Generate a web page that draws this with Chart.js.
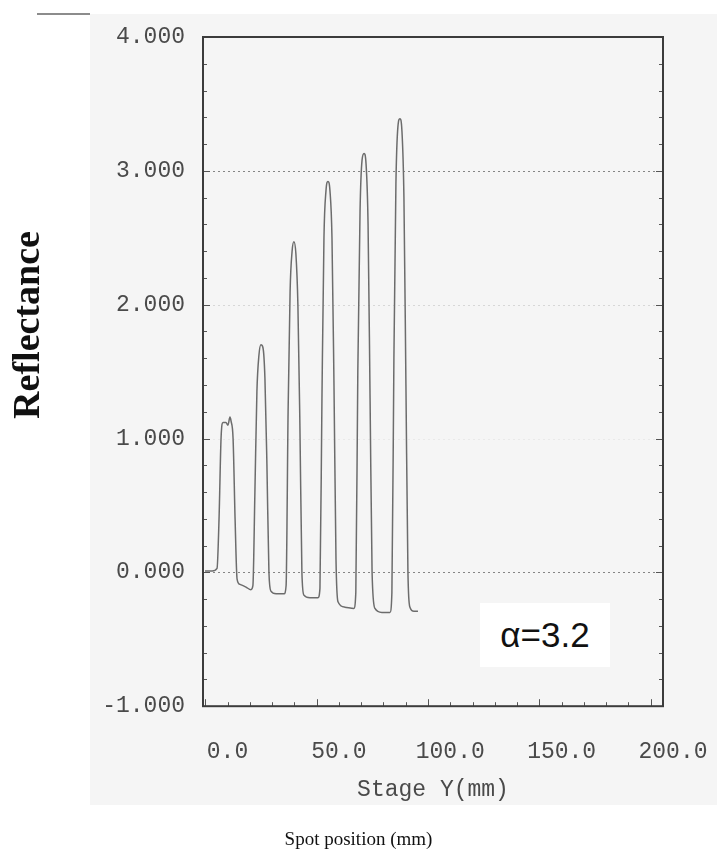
<!DOCTYPE html>
<html>
<head>
<meta charset="utf-8">
<script src="https://cdn.jsdelivr.net/npm/chart.js@4.4.1/dist/chart.umd.min.js"></script>
<style>
  html, body { margin: 0; padding: 0; background: #fff; }
  #wrap { position: relative; width: 717px; height: 854px; }
  #scan { position: absolute; left: 90px; top: 14px; width: 627px; height: 791px; background: #f5f5f5; }
  #rule { position: absolute; left: 37px; top: 13px; width: 53px; height: 2px; background: #8c8c8c; }
  #chart { position: absolute; left: 0; top: 0; }
  #alpha {
    position: absolute; left: 480px; top: 603px; width: 130px; height: 64px;
    background: #fff; color: #111;
    font: 35px "Liberation Sans", Arial, sans-serif;
    display: flex; align-items: center; justify-content: center;
  }
</style>
</head>
<body>
<div id="wrap">
  <div id="scan"></div>
  <div id="rule"></div>
  <canvas id="chart" width="717" height="854"></canvas>
  <div id="alpha">α=3.2</div>
</div>
<script>
const stageY = [
  -10.1, -6.9, -4.7, -3.8, -2.9, -2.0, -0.7, 0.2, 1.1, 1.6, 2.5, 3.4, 4.3, 5.6, 8.3, 10.5,
  11.4, 12.3, 13.2, 14.1, 15.0, 15.9, 16.8, 17.7, 18.6, 19.5, 21.8, 25.4,
  26.3, 27.2, 28.1, 29.0, 29.8, 30.7, 31.6, 32.5, 33.4, 34.3, 37.0, 40.6,
  41.5, 42.4, 43.3, 44.2, 45.1, 46.0, 46.9, 47.8, 48.7, 49.6, 52.7, 56.7,
  57.6, 58.5, 59.5, 60.4, 61.3, 62.2, 63.1, 64.0, 64.9, 66.2, 69.3, 72.9,
  73.8, 74.7, 75.6, 76.5, 77.4, 78.3, 79.2, 80.1, 81.0, 81.9, 83.7, 85.5
];
const reflectance = [
  0.01, 0.01, 0.03, 0.40, 1.00, 1.12, 1.12, 1.10, 1.16, 1.13, 1.00, 0.40, -0.05, -0.09, -0.11, -0.13,
  -0.10, 0.60, 1.35, 1.62, 1.70, 1.68, 1.45, 0.80, 0.00, -0.14, -0.16, -0.16,
  -0.10, 1.20, 2.10, 2.40, 2.47, 2.38, 2.00, 1.10, 0.00, -0.17, -0.19, -0.19,
  -0.12, 1.30, 2.50, 2.85, 2.92, 2.85, 2.50, 1.40, 0.10, -0.22, -0.26, -0.27,
  -0.15, 1.50, 2.70, 3.08, 3.13, 3.05, 2.60, 1.30, 0.00, -0.27, -0.30, -0.30,
  -0.15, 1.60, 2.90, 3.33, 3.39, 3.30, 2.80, 1.40, 0.00, -0.26, -0.29, -0.29
];
const xTicks = [0, 50, 100, 150, 200];
const yTicks = [-1, 0, 1, 2, 3, 4];

const monoFont = { family: '"Liberation Mono", "Courier New", monospace', size: 23 };

// frame, dotted grid and small inward tick marks like the instrument printout
const framePlugin = {
  id: 'frame',
  beforeDatasetsDraw(chart) {
    const { ctx, chartArea: a, scales: { x, y } } = chart;
    ctx.save();
    ctx.lineWidth = 1;
    ctx.setLineDash([2, 3]);
    yTicks.forEach(v => {
      if (v === -1 || v === 4) return;
      const py = Math.round(y.getPixelForValue(v)) + 0.5;
      ctx.strokeStyle = (v === 0 || v === 3) ? 'rgba(85,85,85,0.7)'
        : v === 2 ? 'rgba(160,160,160,0.35)' : 'rgba(170,170,170,0.15)';
      ctx.beginPath();
      ctx.moveTo(a.left, py);
      ctx.lineTo(a.right, py);
      ctx.stroke();
    });
    ctx.setLineDash([]);
    ctx.strokeStyle = '#555';
    for (let i = 0; i <= 25; i++) {
      const py = Math.round(y.getPixelForValue(-1 + i * 0.2)) + 0.5;
      const len = i % 5 === 0 ? 7 : 4;
      ctx.beginPath();
      ctx.moveTo(a.left, py); ctx.lineTo(a.left + len, py);
      ctx.moveTo(a.right, py); ctx.lineTo(a.right - len, py);
      ctx.stroke();
    }
    for (let i = 0; i <= 20; i++) {
      const px = Math.round(x.getPixelForValue(-10 + i * 10)) + 0.5;
      if (px > a.right) break;
      const len = i % 5 === 0 ? 7 : 4;
      ctx.beginPath();
      ctx.moveTo(px, a.bottom); ctx.lineTo(px, a.bottom - len);
      ctx.stroke();
    }
    ctx.lineWidth = 2;
    ctx.strokeStyle = '#3c3c3c';
    ctx.strokeRect(a.left, a.top, a.right - a.left, a.bottom - a.top);
    ctx.restore();
  },
  afterDraw(chart) {
    // the scanned y title sits above the axis centre, so it is placed by hand
    const { ctx } = chart;
    ctx.save();
    ctx.translate(29, 325);
    ctx.rotate(-Math.PI / 2);
    ctx.font = 'bold 38px "Liberation Serif", "Times New Roman", serif';
    ctx.fillStyle = '#111';
    ctx.textAlign = 'center';
    ctx.textBaseline = 'middle';
    ctx.fillText('Reflectance', 0, 0);
    ctx.restore();
  }
};

new Chart(document.getElementById('chart'), {
  type: 'line',
  data: {
    datasets: [{
      data: stageY.map((v, i) => ({ x: v, y: reflectance[i] })),
      borderColor: '#6c6c6c',
      borderWidth: 1.5,
      pointRadius: 0,
      cubicInterpolationMode: 'monotone',
      fill: false
    }]
  },
  options: {
    responsive: false,
    animation: false,
    layout: { padding: { left: 54, right: 54, top: 37, bottom: 0 } },
    plugins: {
      legend: { display: false },
      tooltip: { enabled: false },
      title: {
        display: true,
        position: 'bottom',
        text: 'Spot position (mm)',
        color: '#111',
        font: { family: '"Liberation Serif", "Times New Roman", serif', size: 19, weight: 'normal' },
        padding: { top: 22, bottom: 3 }
      }
    },
    scales: {
      x: {
        type: 'linear',
        min: -11,
        max: 195.5,
        afterBuildTicks: s => { s.ticks = xTicks.map(v => ({ value: v })); },
        afterFit: s => { s.height = 100; s.paddingLeft = 0; s.paddingRight = 0; },
        grid: { display: false, drawTicks: false },
        border: { display: false },
        ticks: {
          autoSkip: false,
          maxRotation: 0,
          padding: 32,
          color: '#4a4a4a',
          font: monoFont,
          callback: v => Number(v).toFixed(1)
        },
        title: {
          display: true,
          text: 'Stage Y(mm)',
          color: '#4a4a4a',
          font: monoFont,
          padding: { top: 0, bottom: 2 }
        }
      },
      y: {
        min: -1,
        max: 4,
        afterBuildTicks: s => { s.ticks = yTicks.map(v => ({ value: v })); },
        afterFit: s => { s.width = 149; s.paddingTop = 0; s.paddingBottom = 0; },
        grid: { display: false, drawTicks: false },
        border: { display: false },
        ticks: {
          padding: 18,
          color: '#4a4a4a',
          font: monoFont,
          callback: v => Number(v).toFixed(3)
        }
      }
    }
  },
  plugins: [framePlugin]
});
</script>
</body>
</html>
